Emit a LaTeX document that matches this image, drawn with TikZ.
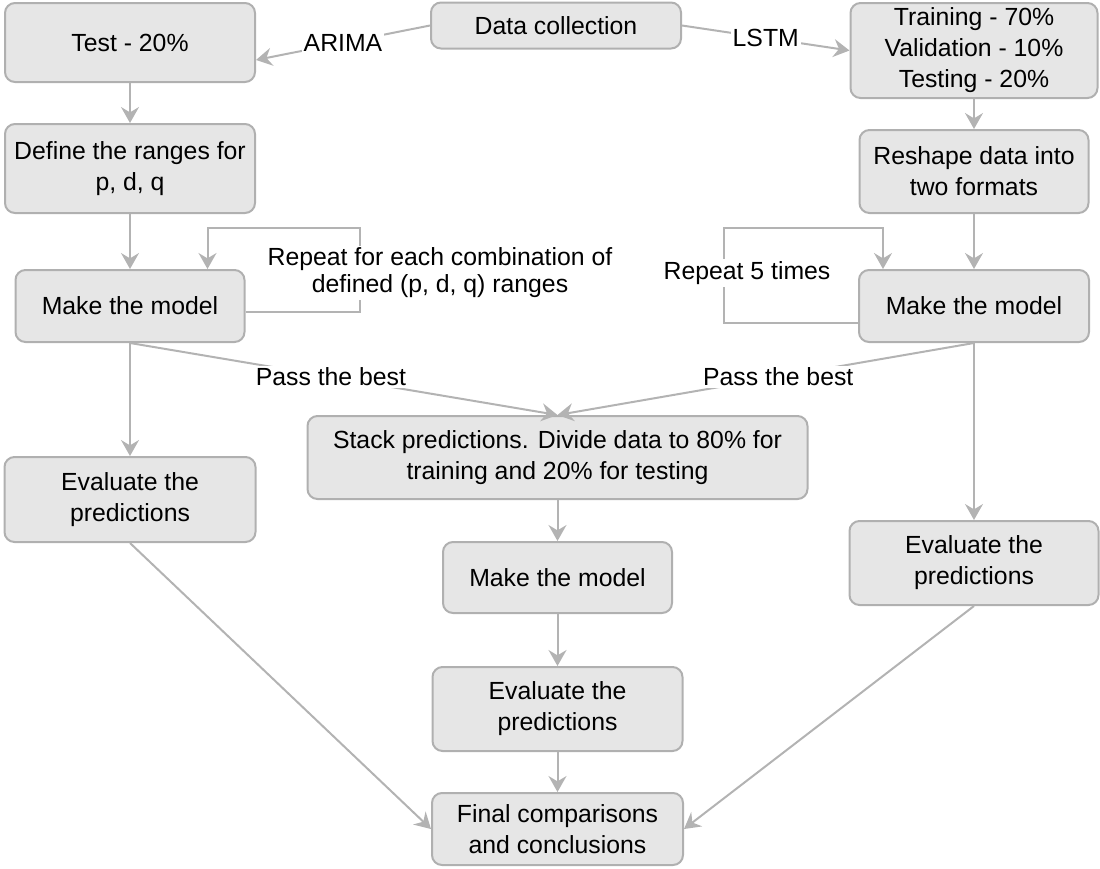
\documentclass[tikz,border=0pt]{standalone}
\usepackage{fontspec}
\setmainfont{Liberation Sans}
\usetikzlibrary{arrows.meta,calc}
\definecolor{boxc}{HTML}{E6E6E6}
\definecolor{bordc}{HTML}{B0B0B0}
\definecolor{linec}{HTML}{B3B3B3}
\begin{document}
\begin{tikzpicture}[x=0.5pt,y=-0.5pt,
  every node/.style={font=\fontsize{12.4pt}{15.5pt}\selectfont, text=black},
  box/.style={draw=bordc, fill=boxc, rounded corners=5pt, line width=1pt, align=center, inner sep=0pt},
  conn/.style={draw=linec, line width=1pt, -{Stealth[length=8pt, width=9pt, inset=2.7pt]}},
  lbl/.style={fill=white, inner sep=1pt, font=\fontsize{12.4pt}{13.5pt}\selectfont, align=center}]
\useasboundingbox (0,0) rectangle (1100,869);

\node[box, minimum width=125pt, minimum height=23pt] (data) at (556,25.5) {Data collection};
\node[box, minimum width=125pt, minimum height=39.5pt] (test) at (130,42.5) {Test - 20\%};
\node[box, minimum width=123.5pt, minimum height=47.5pt] (train) at (974,50.5) {Training - 70\%\\Validation - 10\%\\Testing - 20\%};
\node[box, minimum width=125pt, minimum height=44.5pt] (define) at (130,168.5) {Define the ranges for\\p, d, q};
\node[box, minimum width=114.5pt, minimum height=41.5pt] (reshape) at (974,171.5) {Reshape data into\\two formats};
\node[box, minimum width=114.5pt, minimum height=36pt] (makeL) at (130,306) {Make the model};
\node[box, minimum width=115pt, minimum height=36pt] (makeR) at (974,306) {Make the model};
\node[box, minimum width=250pt, minimum height=41.5pt] (stack) at (557.5,457.5) {Stack predictions. Divide data to 80\% for\\training and 20\% for testing};
\node[box, minimum width=125.5pt, minimum height=42.5pt] (evalL) at (130,499.5) {Evaluate the\\predictions};
\node[box, minimum width=124.5pt, minimum height=42pt] (evalR) at (974,563) {Evaluate the\\predictions};
\node[box, minimum width=114.5pt, minimum height=35.5pt] (makeC) at (557.5,577.5) {Make the model};
\node[box, minimum width=125pt, minimum height=42pt] (evalC) at (557.5,709) {Evaluate the\\predictions};
\node[box, minimum width=125.5pt, minimum height=36pt] (final) at (557.5,829) {Final comparisons\\and conclusions};

% top split
\draw[conn] (data.west) -- node[lbl, pos=0.5] (arima) {ARIMA} ($(test.east)+(0,17.5)$);
\draw[conn] (data.east) -- node[lbl, pos=0.5] (lstm) {LSTM} (train.west);

% left column
\draw[conn] (test.south) -- (define.north);
\draw[conn] (define.south) -- (makeL.north);
\draw[conn] (makeL.south) -- (evalL.north);
\draw[conn] ($(makeL.east)+(0,6)$) -| (360,228) -| ($(makeL.north)+(77.5,0)$);

% right column
\draw[conn] (train.south) -- (reshape.north);
\draw[conn] (reshape.south) -- (makeR.north);
\draw[conn] (makeR.south) -- (evalR.north);
\draw[conn] ($(makeR.west)+(0,17)$) -| (724,228) -| ($(makeR.north)+(-91,0)$);

% pass the best
\draw[conn] (makeL.south) -- node[lbl, pos=0.47] (passL) {Pass the best} (stack.north);
\draw[conn] (makeR.south) -- node[lbl, pos=0.47] (passR) {Pass the best} (stack.north);

% centre column
\draw[conn] (stack.south) -- (makeC.north);
\draw[conn] (makeC.south) -- (evalC.north);
\draw[conn] (evalC.south) -- (final.north);

% to final
\draw[conn] (evalL.south) -- (final.west);
\draw[conn] (evalR.south) -- (final.east);

% loop labels
\node[lbl] (repL) at (440,273) {Repeat for each combination of\\defined (p, d, q) ranges};
\node[lbl] (repR) at (747,273) {Repeat 5 times};
\end{tikzpicture}
\end{document}
